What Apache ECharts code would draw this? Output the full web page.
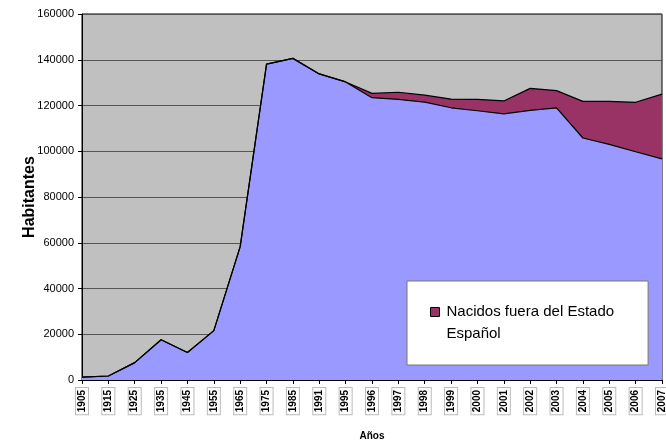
<!DOCTYPE html>
<html>
<head>
<meta charset="utf-8">
<script src="https://cdn.jsdelivr.net/npm/echarts@6/dist/echarts.min.js"></script>
<style>
  html, body { margin: 0; padding: 0; background: #fff; }
  #main { width: 666px; height: 442px; }
</style>
</head>
<body>
<div id="main"></div>
<script>
  var years = ['1905','1915','1925','1935','1945','1955','1965','1975','1985','1991','1995',
               '1996','1997','1998','1999','2000','2001','2002','2003','2004','2005','2006','2007'];
  // nacidos en el Estado (parte inferior)
  var nacidosDentro = [1300, 1750, 7600, 17600, 12000, 21600, 58300, 138100, 140600, 133800, 130300,
                       123400, 122700, 121500, 119000, 117700, 116300, 117900, 119000, 105800, 103000, 99800, 96700];
  // nacidos fuera del Estado (apilado encima)
  var nacidosFuera = [0, 0, 0, 0, 0, 0, 0, 0, 0, 0, 0,
                      1900, 3100, 3000, 3800, 5000, 5700, 9600, 7500, 16000, 18800, 21600, 28300];
  var yTicks = [0, 20000, 40000, 60000, 80000, 100000, 120000, 140000, 160000];

  var font = 'Arial, "Liberation Sans", sans-serif';

  var option = {
      animation: false,
      backgroundColor: '#fff',
      textStyle: { fontFamily: font },
      grid: {
          left: 82, right: 4, top: 14, bottom: 62,
          outerBoundsMode: 'none',
          containLabel: false,
          show: true,
          backgroundColor: '#c0c0c0',
          borderColor: '#000',
          borderWidth: 1
      },
      legend: {
          data: ['Nacidos fuera del Estado Español'],
          left: 407, top: 281,
          orient: 'vertical',
          backgroundColor: '#fff',
          borderColor: '#777',
          borderWidth: 1,
          borderRadius: 0,
          padding: [20, 34, 20, 23],
          // cuadrado alineado con la primera línea del texto
          icon: 'path://M0,0L9,0L9,9L0,9Z M9,31',
          itemWidth: 9, itemHeight: 31, itemGap: 0,
          itemStyle: { borderColor: '#000', borderWidth: 1 },
          formatter: function () { return 'Nacidos fuera del Estado\nEspañol'; },
          textStyle: { fontSize: 15, color: '#000', fontFamily: font, lineHeight: 22, padding: [0, 0, 0, 2] }
      },
      xAxis: {
          type: 'category',
          data: years,
          boundaryGap: false,
          name: 'Años',
          nameLocation: 'middle',
          nameGap: 51,
          nameMoveOverlap: false,
          nameTextStyle: { fontSize: 10, fontWeight: 'bold', color: '#000' },
          axisLine: { lineStyle: { color: '#000', width: 1 } },
          axisTick: { show: true, length: 4, lineStyle: { color: '#000' } },
          axisLabel: {
              interval: 0,
              rotate: 90,
              fontSize: 10,
              fontWeight: 'bold',
              color: '#000',
              margin: 8,
              backgroundColor: '#fff',
              borderColor: '#bbb',
              borderWidth: 1,
              padding: [1, 2, 1, 2]
          },
          splitLine: { show: false }
      },
      yAxis: {
          type: 'value',
          min: 0, max: 160000, interval: 20000,
          name: 'Habitantes',
          nameLocation: 'middle',
          nameGap: 44,
          nameMoveOverlap: false,
          nameTextStyle: { fontSize: 16, fontWeight: 'bold', color: '#000' },
          axisLine: { show: true, lineStyle: { color: '#000' } },
          axisTick: { show: true, length: 4, lineStyle: { color: '#000' } },
          axisLabel: {
              fontSize: 11, color: '#000', margin: 8,
              formatter: function (v) { return yTicks.indexOf(v) >= 0 ? String(v) : ''; }
          },
          splitLine: { show: true, lineStyle: { color: '#555', width: 1 } }
      },
      series: [
          {
              name: 'Nacidos en el Estado',
              type: 'line',
              stack: 'total',
              symbol: 'none',
              data: nacidosDentro,
              lineStyle: { color: '#000', width: 1.2 },
              itemStyle: { color: '#9999ff' },
              areaStyle: { color: '#9999ff', opacity: 1 }
          },
          {
              name: 'Nacidos fuera del Estado Español',
              type: 'line',
              stack: 'total',
              symbol: 'none',
              data: nacidosFuera,
              lineStyle: { color: '#000', width: 1.2 },
              itemStyle: { color: '#993366' },
              areaStyle: { color: '#993366', opacity: 1 }
          }
      ]
  };

  var myChart = echarts.init(document.getElementById('main'));
  myChart.setOption(option);
</script>
</body>
</html>
